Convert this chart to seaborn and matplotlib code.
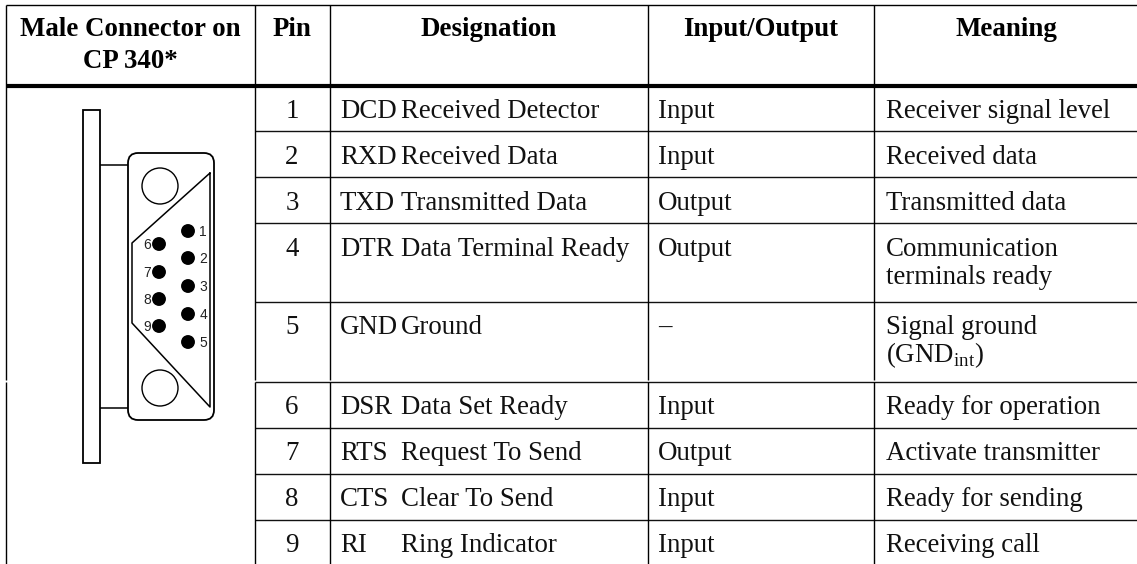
import numpy as np
import pandas as pd
import matplotlib
matplotlib.use("Agg")
import matplotlib.pyplot as plt
from matplotlib.patches import Circle, FancyBboxPatch, Rectangle
import seaborn as sns

# table text
headers = [["Male Connector on", "CP 340*"], ["Pin"], ["Designation"], ["Input/Output"], ["Meaning"]]
pins = ["1", "2", "3", "4", "5", "6", "7", "8", "9"]
abbrevs = ["DCD", "RXD", "TXD", "DTR", "GND", "DSR", "RTS", "CTS", "RI"]
names = ["Received Detector", "Received Data", "Transmitted Data", "Data Terminal Ready", "Ground",
         "Data Set Ready", "Request To Send", "Clear To Send", "Ring Indicator"]
directions = ["Input", "Input", "Output", "Output", "\u2013", "Input", "Output", "Input", "Input"]
meanings = [["Receiver signal level"], ["Received data"], ["Transmitted data"],
            ["Communication", "terminals ready"], ["Signal ground", "(GND$_{\\mathrm{int}}$)"],
            ["Ready for operation"], ["Activate transmitter"], ["Ready for sending"], ["Receiving call"]]

# connector pins
pin_labels = ["1", "2", "3", "4", "5", "6", "7", "8", "9"]
pin_x = [188, 188, 188, 188, 188, 159, 159, 159, 159]
pin_y = [231, 258, 286, 314, 342, 244, 272, 299, 326]

# layout in pixels
col_lines = [6, 255, 330, 648, 874]
row_lines = [131, 177, 223, 302, 382, 428, 474, 520]
baselines = [117.5, 163.5, 209.5, 255.5, 333.5, 414.5, 460.5, 506.5, 552.5]

sns.set_theme(style="white")
plt.rcParams["font.family"] = ["Liberation Serif", "DejaVu Sans"]
plt.rcParams["mathtext.fontset"] = "custom"
plt.rcParams["mathtext.rm"] = "Liberation Serif"

fig = plt.figure(figsize=(11.37, 5.64), dpi=100)
ax = fig.add_axes([0, 0, 1, 1])
ax.set_xlim(0, 1137)
ax.set_ylim(564, 0)
ax.axis("off")

FS = 19.4
LW = 1.0

# rules
ax.hlines(5, 6, 1137, color="black", lw=LW)
ax.hlines(86, 6, 1137, color="black", lw=3)
ax.hlines(row_lines, 255, 1137, color="#111111", lw=LW)
for x in col_lines:
    ax.vlines(x, 5, 380, color="black", lw=LW)
    ax.vlines(x, 382, 564, color="black", lw=LW)

# header
hx = [130, 292, 489, 761, 1006]
for x, lines in zip(hx, headers):
    for i, line in enumerate(lines):
        ax.text(x, 36.5 + i * 32, line, ha="center", va="baseline", fontsize=FS, fontweight="bold", color="black")

# body
for i in range(9):
    y = baselines[i]
    ax.text(292, y, pins[i], ha="center", va="baseline", fontsize=FS, color="#111111")
    ax.text(340, y, abbrevs[i], ha="left", va="baseline", fontsize=FS, color="#111111")
    ax.text(401, y, names[i], ha="left", va="baseline", fontsize=FS, color="#111111")
    ax.text(658, y, directions[i], ha="left", va="baseline", fontsize=FS, color="#111111")
    for j, line in enumerate(meanings[i]):
        ax.text(886, y + j * 29, line, ha="left", va="baseline", fontsize=FS, color="#111111")

# connector drawing
ax.add_patch(Rectangle((83, 110), 17, 353, fill=False, ec="black", lw=1.3))
ax.add_patch(FancyBboxPatch((136, 161), 70, 251, boxstyle="round,pad=8,rounding_size=10",
                            fill=False, ec="black", lw=1.3))
ax.hlines([165, 408], 100, 128, color="black", lw=1.1)
ax.plot([210, 132, 132, 210, 210], [173, 243, 323, 407, 173], color="black", lw=1.1)
ax.add_patch(Circle((160, 186), 18, fill=False, ec="black", lw=1))
ax.add_patch(Circle((160, 388), 18, fill=False, ec="black", lw=1))

pins_df = pd.DataFrame({"label": pin_labels, "x": pin_x, "y": pin_y})
sns.scatterplot(data=pins_df, x="x", y="y", s=100, color="black", edgecolor="none", legend=False, ax=ax)
ax.set_xlim(0, 1137)
ax.set_ylim(564, 0)
ax.axis("off")
for _, row in pins_df.iterrows():
    dx = 15 if row["x"] > 170 else -12
    ax.text(row["x"] + dx, row["y"] + 1, row["label"], ha="center", va="center",
            fontsize=10, family="Liberation Sans", color="#222222")

fig.savefig("out.png", dpi=100)
